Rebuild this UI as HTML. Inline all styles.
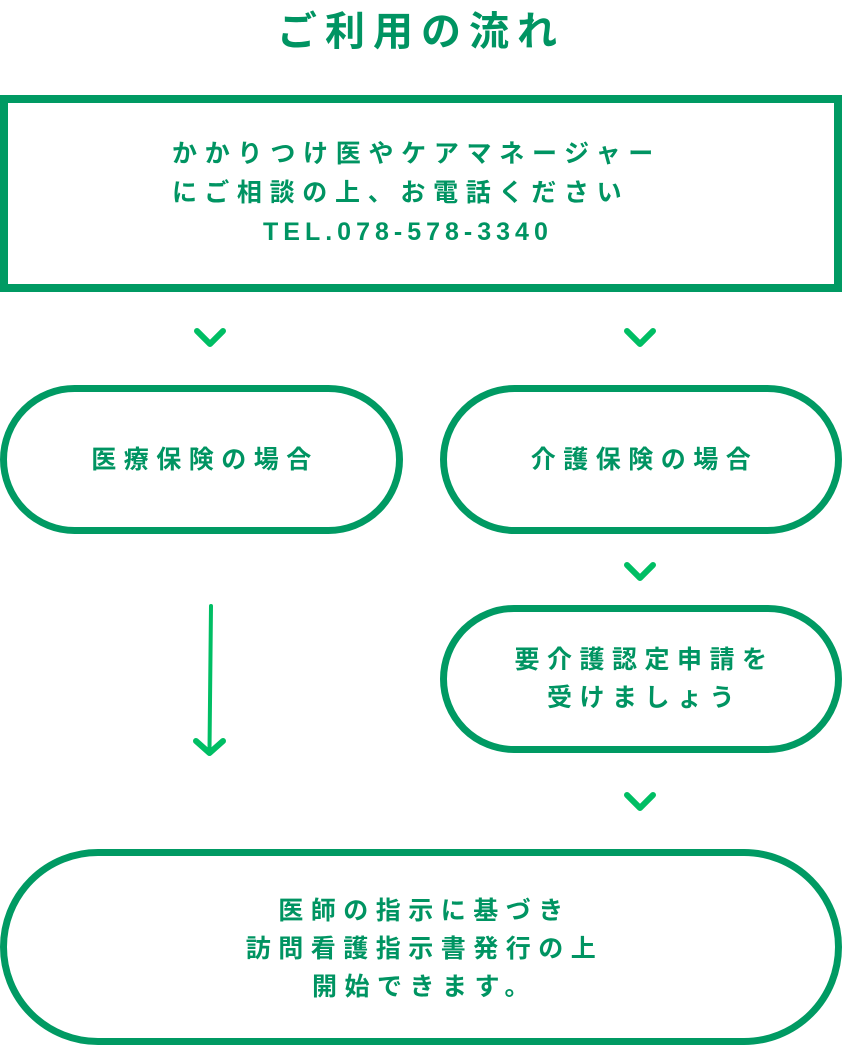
<!DOCTYPE html>
<html><head><meta charset="utf-8"><style>
html,body{margin:0;padding:0;background:#fff;}
body{width:842px;height:1046px;position:relative;overflow:hidden;font-family:"Liberation Sans","Noto Sans CJK JP",sans-serif;color:#009462;font-weight:bold;}
.t{position:absolute;left:0;width:842px;text-align:center;top:8px;font-size:40px;letter-spacing:8px;line-height:48px;box-sizing:border-box;}
.box{position:absolute;left:0;top:95px;width:842px;height:197px;box-sizing:border-box;border:8px solid #009A63;}
.pill{position:absolute;box-sizing:border-box;border:7px solid #009A63;border-radius:200px;display:flex;align-items:center;justify-content:center;text-align:center;font-size:25px;letter-spacing:7.5px;line-height:38px;padding-left:7px;}
.bt{position:absolute;left:172px;top:135px;font-size:25px;letter-spacing:7.7px;line-height:39px;white-space:nowrap;}
svg{position:absolute;left:0;top:0;}
</style></head><body>
<div class="t">ご利用の流れ</div>
<div class="box"></div>
<div class="bt">かかりつけ医やケアマネージャー<br>にご相談の上、お電話ください<br><span style="padding-left:91px;letter-spacing:5px">TEL.078-578-3340</span></div>
<div class="pill" style="left:0;top:385px;width:403px;height:149px;">医療保険の場合</div>
<div class="pill" style="left:440px;top:385px;width:402px;height:149px;">介護保険の場合</div>
<div class="pill" style="left:440px;top:605px;width:402px;height:148px;">要介護認定申請を<br>受けましょう</div>
<div class="pill" style="left:0;top:849px;width:842px;height:196px;padding-top:3px;">医師の指示に基づき<br>訪問看護指示書発行の上<br>開始できます。</div>
<svg width="842" height="1046" fill="none" stroke="#00BE64" stroke-width="6" stroke-linecap="round" stroke-linejoin="round">
<polyline points="197,331 210,344 223,331"/>
<polyline points="627,331 640,344 653,331"/>
<polyline points="627,565 640,578 653,565"/>
<polyline points="627,795 640,808 653,795"/>
<line x1="211" y1="606" x2="209.5" y2="750" stroke-width="4"/>
<polyline points="196,741 209.5,753 223,741"/>
</svg>
</body></html>
